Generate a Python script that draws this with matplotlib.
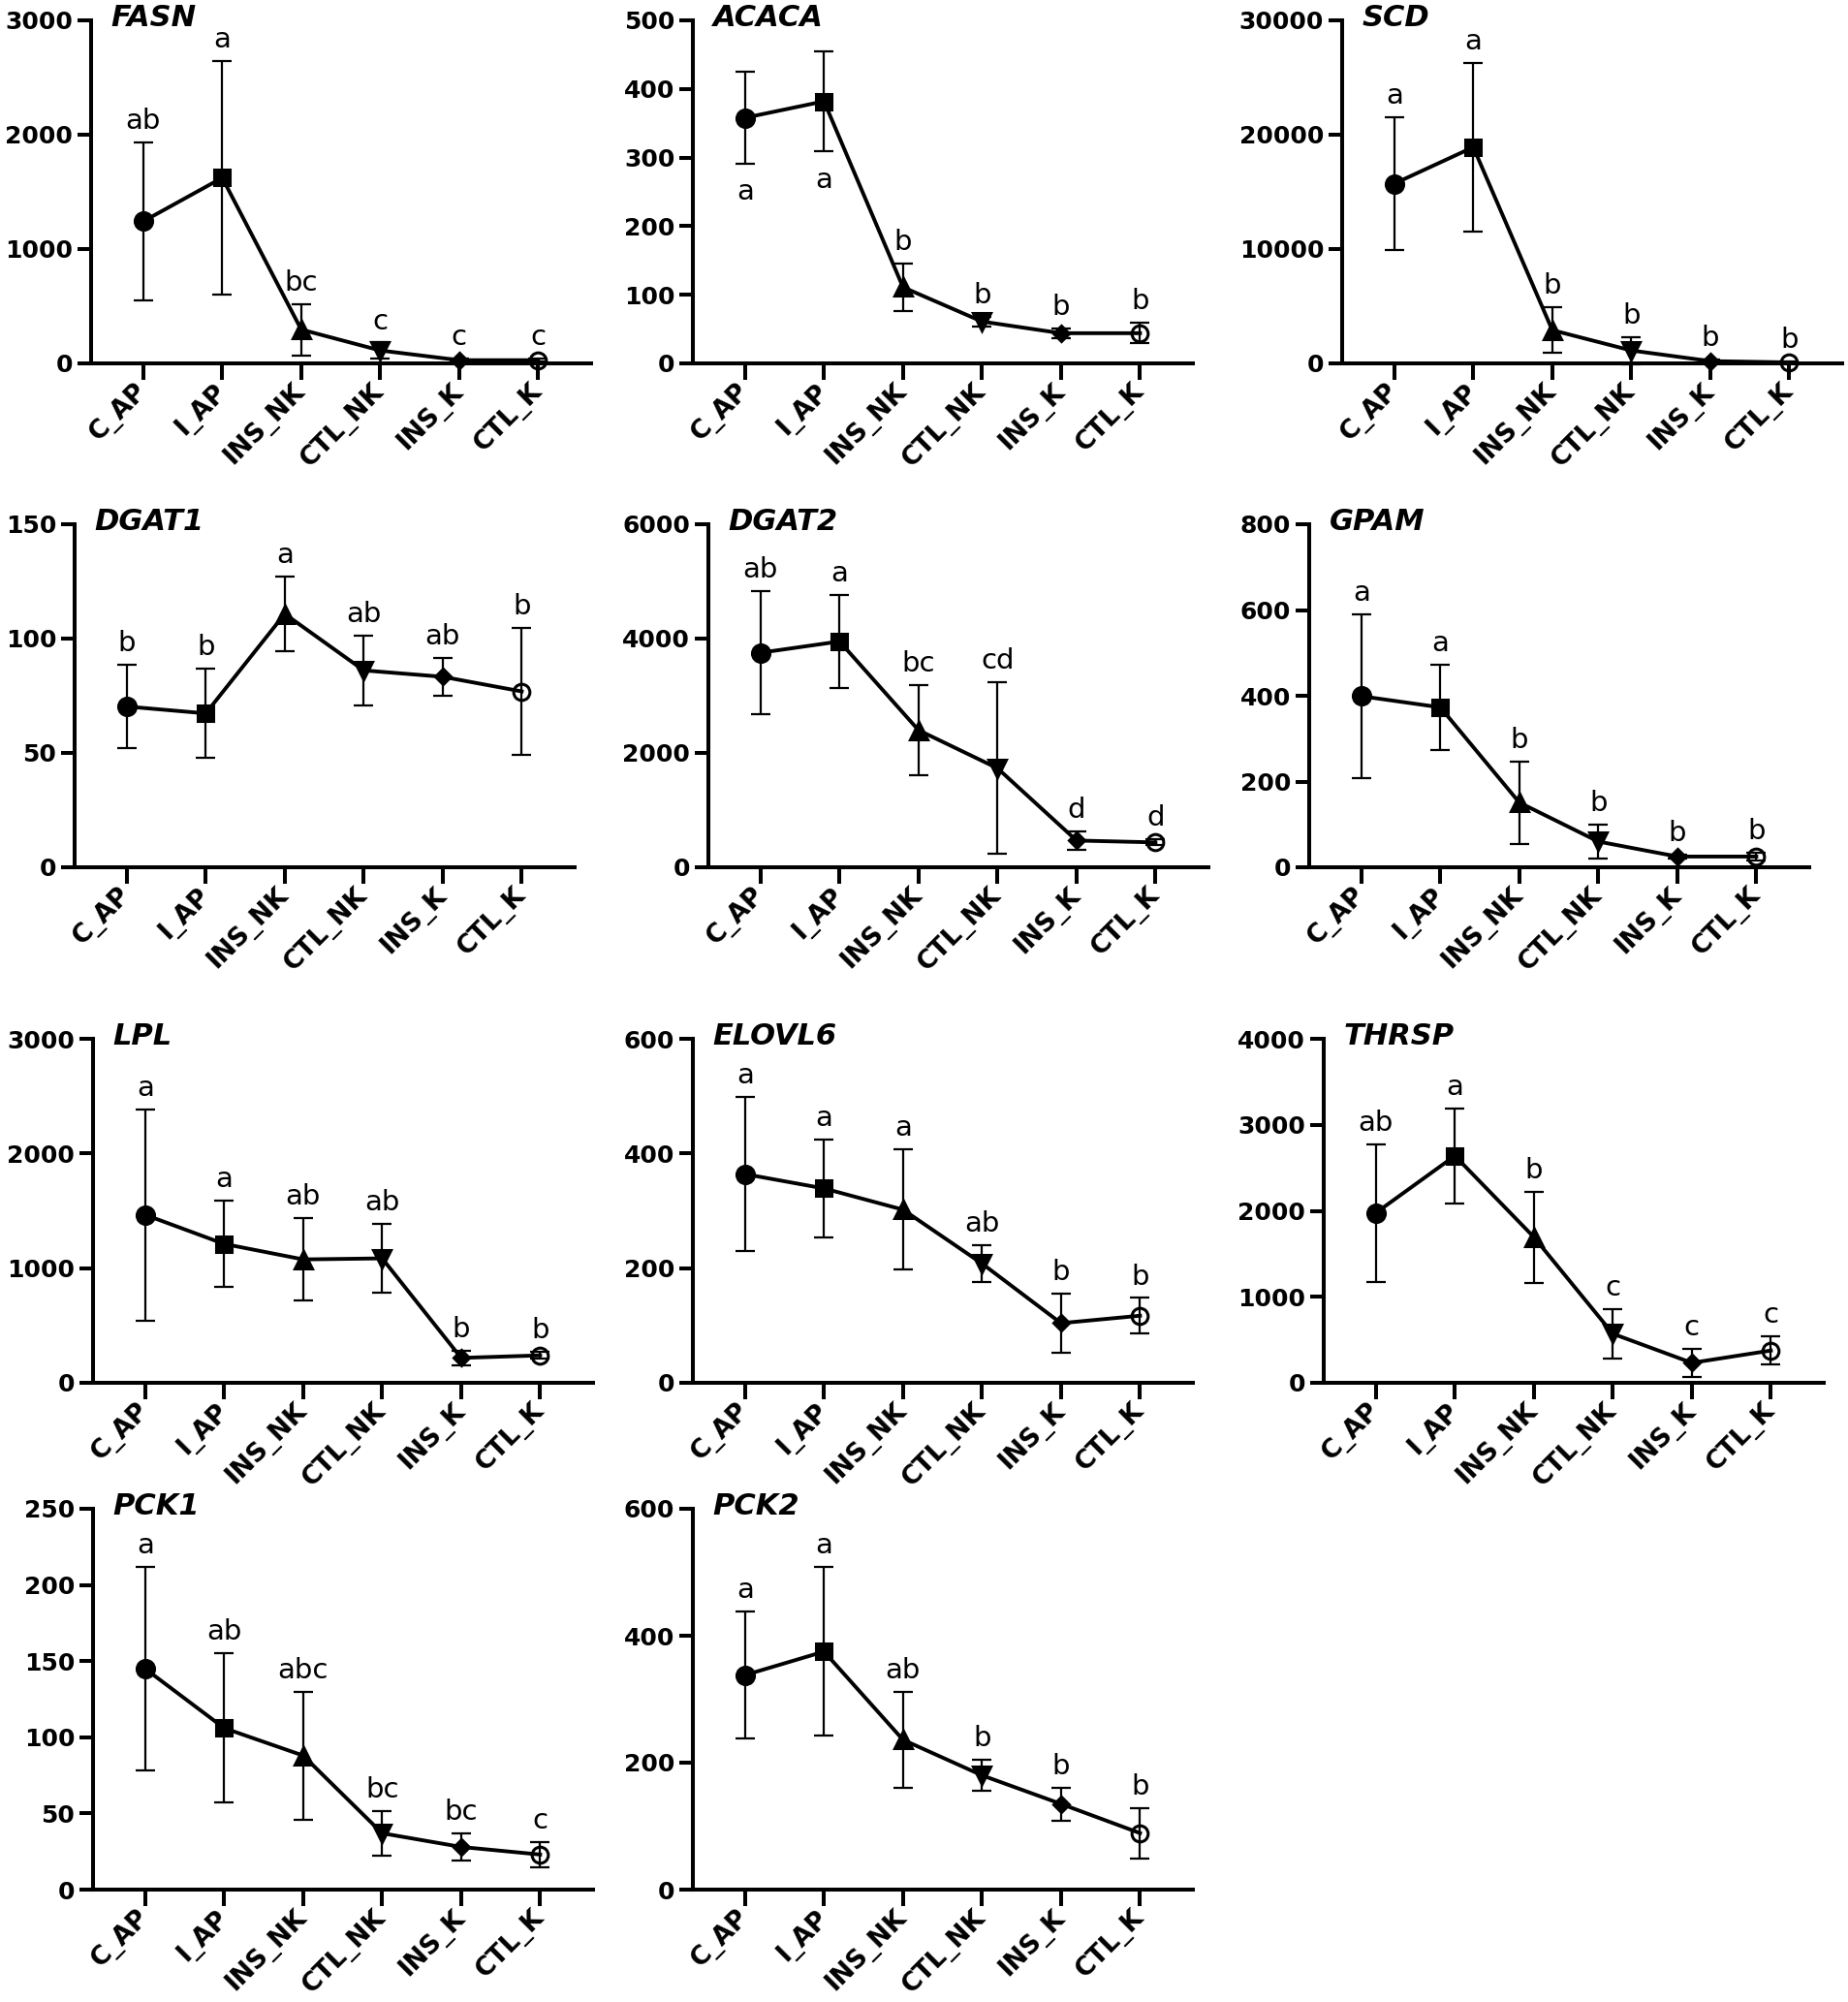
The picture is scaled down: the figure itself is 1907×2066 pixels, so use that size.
import numpy as np
import matplotlib
matplotlib.use("Agg")
import matplotlib.pyplot as plt

groups = ["C_AP", "I_AP", "INS_NK", "CTL_NK", "INS_K", "CTL_K"]

fasn_mean = [1242, 1623, 296, 113, 28, 28]
fasn_err = [690, 1020, 225, 70, 12, 12]
fasn_letters = ["ab", "a", "bc", "c", "c", "c"]

acaca_mean = [358, 382, 111, 61, 44, 44]
acaca_err = [67, 73, 35, 7, 7, 15]
acaca_letters = ["a", "a", "b", "b", "b", "b"]

scd_mean = [15720, 18910, 2907, 1129, 200, 85]
scd_err = [5790, 7380, 1980, 1200, 150, 80]
scd_letters = ["a", "a", "b", "b", "b", "b"]

dgat1_mean = [70.3, 67.3, 110.8, 86.1, 83.3, 76.9]
dgat1_err = [18.3, 19.5, 16.2, 15.2, 8.1, 27.7]
dgat1_letters = ["b", "b", "a", "ab", "ab", "b"]

dgat2_mean = [3753, 3950, 2398, 1732, 468, 435]
dgat2_err = [1072, 810, 790, 1500, 155, 50]
dgat2_letters = ["ab", "a", "bc", "cd", "d", "d"]

gpam_mean = [399, 373, 151, 60, 25, 25]
gpam_err = [190, 100, 96, 40, 5, 10]
gpam_letters = ["a", "a", "b", "b", "b", "b"]

lpl_mean = [1465, 1211, 1076, 1085, 217, 239]
lpl_err = [920, 375, 360, 300, 64, 30]
lpl_letters = ["a", "a", "ab", "ab", "b", "b"]

elovl6_mean = [364, 339, 302, 208, 104, 117]
elovl6_err = [134, 85, 105, 32, 52, 31]
elovl6_letters = ["a", "a", "a", "ab", "b", "b"]

thrsp_mean = [1976, 2639, 1694, 570, 232, 375]
thrsp_err = [800, 550, 530, 290, 160, 163]
thrsp_letters = ["ab", "a", "b", "c", "c", "c"]

pck1_mean = [145, 106, 88, 37, 28, 23]
pck1_err = [67, 49, 42, 14.5, 8.8, 8.3]
pck1_letters = ["a", "ab", "abc", "bc", "bc", "c"]

pck2_mean = [338, 375, 236, 180, 135, 89]
pck2_err = [100, 133, 75, 25, 26, 40]
pck2_letters = ["a", "a", "ab", "b", "b", "b"]

# gene, mean, err, letters, y max, y step, letters drawn below bar
panels = [
    ("FASN", fasn_mean, fasn_err, fasn_letters, 3000, 1000, []),
    ("ACACA", acaca_mean, acaca_err, acaca_letters, 500, 100, [0, 1]),
    ("SCD", scd_mean, scd_err, scd_letters, 30000, 10000, []),
    ("DGAT1", dgat1_mean, dgat1_err, dgat1_letters, 150, 50, []),
    ("DGAT2", dgat2_mean, dgat2_err, dgat2_letters, 6000, 2000, []),
    ("GPAM", gpam_mean, gpam_err, gpam_letters, 800, 200, []),
    ("LPL", lpl_mean, lpl_err, lpl_letters, 3000, 1000, []),
    ("ELOVL6", elovl6_mean, elovl6_err, elovl6_letters, 600, 200, []),
    ("THRSP", thrsp_mean, thrsp_err, thrsp_letters, 4000, 1000, []),
    ("PCK1", pck1_mean, pck1_err, pck1_letters, 250, 50, []),
    ("PCK2", pck2_mean, pck2_err, pck2_letters, 600, 200, []),
]

# layout in pixels: (left of y axis, top, bottom)
W, H = 1907, 2066
AXW = 516
layout = [
    (94, 21, 375), (715, 21, 375), (1385, 21, 375),
    (77, 541, 895), (731, 541, 895), (1351, 541, 895),
    (96, 1072, 1427), (715, 1072, 1427), (1366, 1072, 1427),
    (96, 1557, 1950), (715, 1557, 1950),
]

markers = [
    dict(marker="o", ms=13, mfc="black"),
    dict(marker="s", ms=12, mfc="black"),
    dict(marker="^", ms=13, mfc="black"),
    dict(marker="v", ms=13, mfc="black"),
    dict(marker="D", ms=8.5, mfc="black"),
    dict(marker="o", ms=12, mfc="none"),
]

plt.rcParams["font.family"] = ["DejaVu Sans"]
fig = plt.figure(figsize=(W / 100, H / 100), dpi=100)
fig.patch.set_facecolor("white")

LW = 2.9
for (name, mean, err, letters, ymax, ystep, below), (left, top, bottom) in zip(panels, layout):
    ax = fig.add_axes([left / W, 1 - bottom / H, AXW / W, (bottom - top) / H])
    x = np.arange(len(groups))
    mean = np.asarray(mean, float)
    err = np.asarray(err, float)
    ax.errorbar(x, mean, yerr=err, fmt="none", ecolor="black", elinewidth=1.6,
                capsize=7, capthick=1.6, zorder=2, clip_on=False)
    ax.plot(x, mean, color="black", lw=2.8, zorder=3, clip_on=False)
    for i in range(len(groups)):
        ax.plot(x[i], mean[i], linestyle="none", mec="black", mew=2.2,
                zorder=4, clip_on=False, **markers[i])
    for i, lab in enumerate(letters):
        if i in below:
            ax.annotate(lab, xy=(x[i], mean[i] - err[i]), xytext=(0, -27),
                        textcoords="offset points", ha="center", va="baseline",
                        fontsize=21, annotation_clip=False)
        else:
            ax.annotate(lab, xy=(x[i], mean[i] + err[i]), xytext=(0, 10),
                        textcoords="offset points", ha="center", va="baseline",
                        fontsize=21, annotation_clip=False)
    ax.annotate(name, xy=(0, 1), xycoords="axes fraction", xytext=(15, -4),
                textcoords="offset points", ha="left", va="baseline",
                fontsize=22, fontweight="bold", fontstyle="italic")
    ax.set_xlim(-0.66, 5.67)
    ax.set_ylim(0, ymax)
    yt = np.arange(0, ymax + ystep / 2, ystep)
    ax.set_yticks(yt, [f"{int(v)}" for v in yt], fontweight="bold", fontsize=18)
    ax.set_xticks(x, groups, rotation=45, ha="right", va="center",
                  rotation_mode="anchor", fontweight="bold", fontsize=19)
    for s in ["top", "right"]:
        ax.spines[s].set_visible(False)
    for s in ["left", "bottom"]:
        ax.spines[s].set_linewidth(LW)
        ax.spines[s].set_capstyle("projecting")
    ax.tick_params(axis="y", width=LW, length=10, pad=3.5)
    ax.tick_params(axis="x", width=LW, length=12, pad=6)
    ax.set_facecolor("none")

fig.savefig("out.png", dpi=100, facecolor="white")
